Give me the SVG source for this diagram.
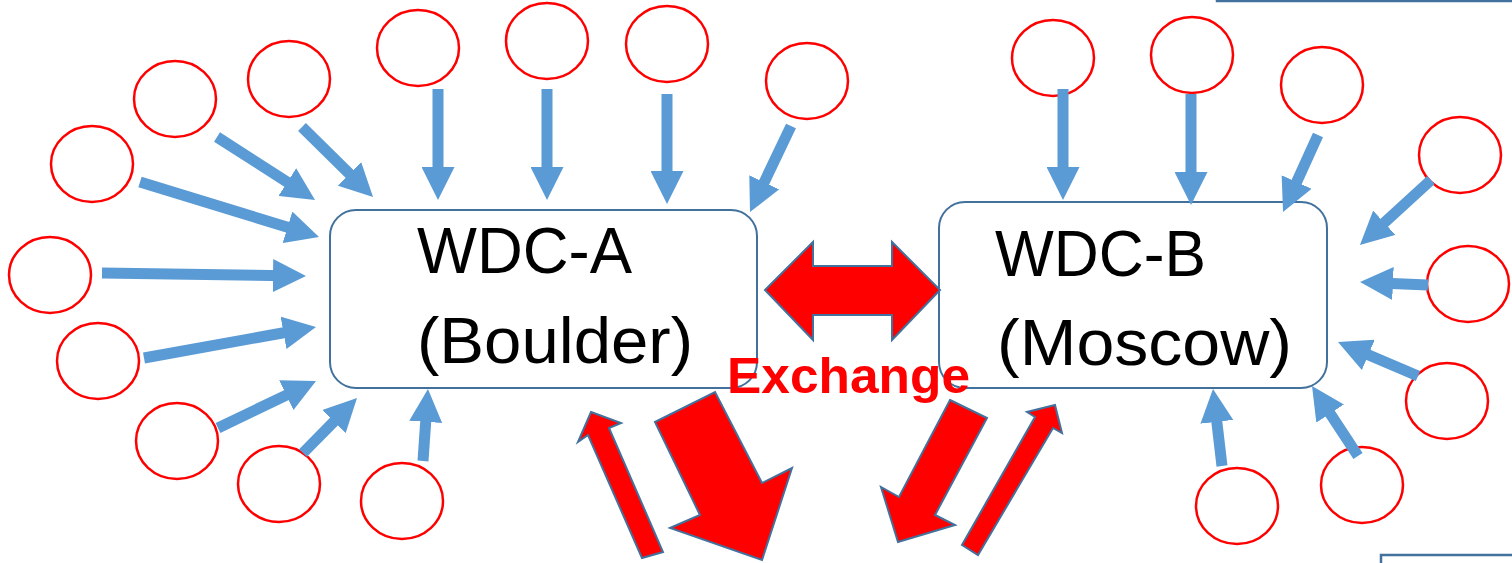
<svg xmlns="http://www.w3.org/2000/svg" width="1512" height="563" viewBox="0 0 1512 563">
<style>
.src{fill:#FFFFFF;stroke:#FF0000;stroke-width:2.5}
.box{fill:#FFFFFF;stroke:#41719C;stroke-width:2}
.lbl{font-family:"Liberation Sans",Arial,sans-serif;font-size:64px;fill:#000000}
.flow{stroke:#5B9BD5;stroke-width:11;fill:none;marker-end:url(#ah)}
.big{fill:#FF0000;stroke:#41719C;stroke-width:2;stroke-linejoin:miter}
.ex{font-family:"Liberation Sans",Arial,sans-serif;font-size:50px;font-weight:bold;fill:#FF0000}
.frame{fill:none;stroke:#41719C;stroke-width:2.5}
</style>
<defs>
<marker id="ah" viewBox="0 0 33 33" markerUnits="userSpaceOnUse" markerWidth="33" markerHeight="33" refX="13" refY="16.5" orient="auto">
<path d="M0,0 L33,16.5 L0,33 z" fill="#5B9BD5"/>
</marker>
</defs>
<rect class="frame" x="1217" y="-100" width="400" height="101"/>
<rect class="frame" x="1381" y="555" width="200" height="60"/>
<g id="sources-a">
<ellipse id="a1" class="src" cx="92" cy="164" rx="41" ry="38"/>
<ellipse id="a2" class="src" cx="175" cy="99" rx="41" ry="38"/>
<ellipse id="a3" class="src" cx="289" cy="79" rx="41" ry="38"/>
<ellipse id="a4" class="src" cx="418" cy="48" rx="41" ry="38"/>
<ellipse id="a5" class="src" cx="547" cy="41" rx="41" ry="38"/>
<ellipse id="a6" class="src" cx="667" cy="44" rx="41" ry="38"/>
<ellipse id="a7" class="src" cx="807" cy="81" rx="41" ry="38"/>
<ellipse id="a8" class="src" cx="50" cy="275" rx="41" ry="38"/>
<ellipse id="a9" class="src" cx="98" cy="361" rx="41" ry="38"/>
<ellipse id="a10" class="src" cx="177" cy="441" rx="41" ry="38"/>
<ellipse id="a11" class="src" cx="279" cy="484" rx="41" ry="38"/>
<ellipse id="a12" class="src" cx="402" cy="501" rx="41" ry="38"/>
</g>
<g id="sources-b">
<ellipse id="b1" class="src" cx="1053" cy="58" rx="41" ry="38"/>
<ellipse id="b2" class="src" cx="1192" cy="55" rx="41" ry="38"/>
<ellipse id="b3" class="src" cx="1322" cy="85" rx="41" ry="38"/>
<ellipse id="b4" class="src" cx="1460" cy="155" rx="41" ry="38"/>
<ellipse id="b5" class="src" cx="1468" cy="284" rx="41" ry="38"/>
<ellipse id="b6" class="src" cx="1447" cy="401" rx="41" ry="38"/>
<ellipse id="b7" class="src" cx="1362" cy="485" rx="41" ry="38"/>
<ellipse id="b8" class="src" cx="1237" cy="506" rx="41" ry="38"/>
</g>
<g id="wdc-a">
<rect class="box" x="330" y="210" width="427" height="178" rx="26" ry="26"/>
<text class="lbl" x="417" y="273" textLength="215" lengthAdjust="spacingAndGlyphs">WDC-A</text>
<text class="lbl" x="417" y="363" textLength="276" lengthAdjust="spacingAndGlyphs">(Boulder)</text>
</g>
<g id="wdc-b">
<rect class="box" x="939" y="202" width="388" height="186" rx="26" ry="26"/>
<text class="lbl" x="995" y="276" textLength="211" lengthAdjust="spacingAndGlyphs">WDC-B</text>
<text class="lbl" x="997" y="365" textLength="295" lengthAdjust="spacingAndGlyphs">(Moscow)</text>
</g>
<g id="connectors">
<line class="flow" x1="140" y1="182" x2="299.9" y2="231.1"/>
<line class="flow" x1="217" y1="137" x2="298.2" y2="189.2"/>
<line class="flow" x1="302" y1="127" x2="358.8" y2="183"/>
<line class="flow" x1="438" y1="89" x2="438" y2="180"/>
<line class="flow" x1="547" y1="89" x2="547" y2="180"/>
<line class="flow" x1="667" y1="94" x2="667" y2="184"/>
<line class="flow" x1="791" y1="126" x2="758.6" y2="194"/>
<line class="flow" x1="102" y1="273" x2="286" y2="275.7"/>
<line class="flow" x1="144" y1="358" x2="296.3" y2="330.5"/>
<line class="flow" x1="218" y1="428" x2="298" y2="389.6"/>
<line class="flow" x1="303" y1="453" x2="343" y2="412.3"/>
<line class="flow" x1="423" y1="461" x2="426.6" y2="408.9"/>
<line class="flow" x1="1063" y1="89" x2="1063" y2="180"/>
<line class="flow" x1="1191" y1="94" x2="1191" y2="185"/>
<line class="flow" x1="1318" y1="135" x2="1291.3" y2="193.8"/>
<line class="flow" x1="1431" y1="180" x2="1374.7" y2="231.5"/>
<line class="flow" x1="1428" y1="285" x2="1380" y2="282.9"/>
<line class="flow" x1="1418" y1="376" x2="1356.4" y2="349.8"/>
<line class="flow" x1="1358" y1="456" x2="1323" y2="402.7"/>
<line class="flow" x1="1222" y1="466" x2="1215.3" y2="408.9"/>
<polygon id="exchange-both" class="big" points="765,290 813,242 813,266 892,266 892,242 940,290 892,340 892,315 813,315 813,340"/>
<polygon id="up-a" class="big" points="591,412 621,423 609,428 663,552 642,558 588,435 578,442"/>
<polygon id="down-a" class="big" points="655,422 715,392 762,483 792,468 762,560 670,528 700,515"/>
<polygon id="down-b" class="big" points="950,400 987,418 935,515 955,525 898,542 881,487 899,497"/>
<polygon id="up-b" class="big" points="1055,405 1062,433 1053,428 978,555 962,545 1035,417 1027,412"/>
</g>
<text class="ex" x="727" y="393" textLength="243" lengthAdjust="spacingAndGlyphs">Exchange</text>
</svg>
